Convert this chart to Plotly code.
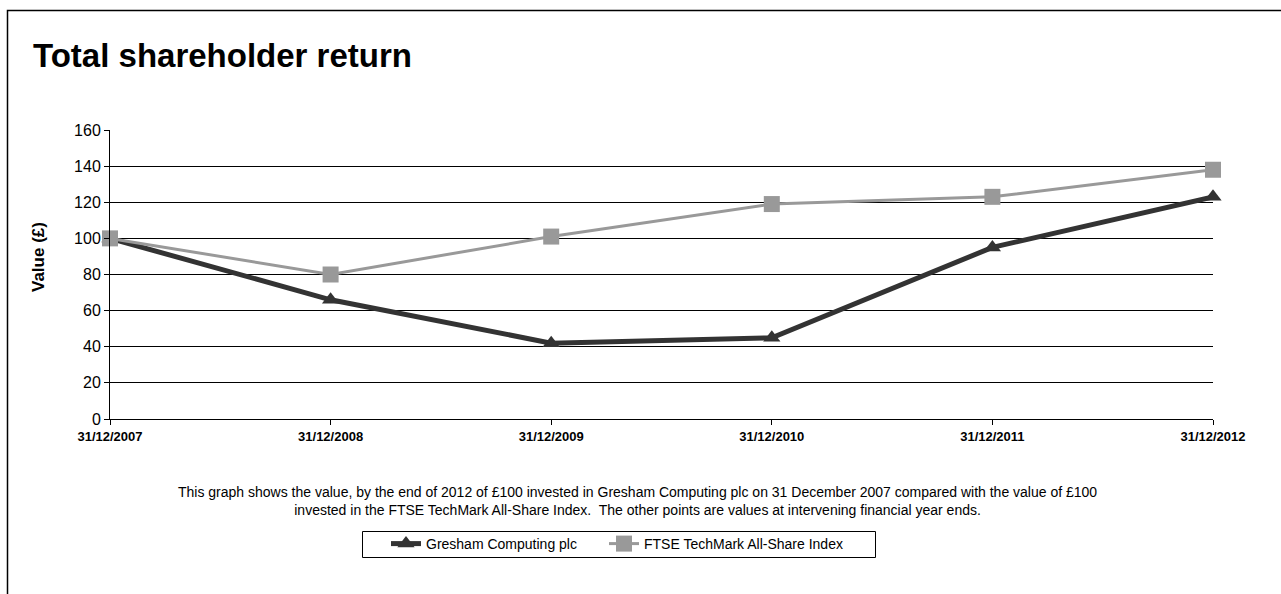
import plotly.graph_objects as go

dates = ["31/12/2007", "31/12/2008", "31/12/2009", "31/12/2010", "31/12/2011", "31/12/2012"]
gresham = [100, 66, 42, 45, 95, 123]
ftse = [100, 80, 101, 119, 123, 138]
y_ticks = [0, 20, 40, 60, 80, 100, 120, 140, 160]

W, H = 1281, 594
L, R, T, B = 110, 1213, 130, 419
pw, ph = R - L, B - T

def px(x):
    return (x - L) / pw

def py(y):
    return (B - y) / ph

FONT = "Arial, Liberation Sans, sans-serif"

fig = go.Figure()
fig.add_trace(go.Scatter(
    x=dates, y=gresham, name="Gresham Computing plc", mode="lines+markers",
    line=dict(color="#333333", width=5),
    marker=dict(symbol="triangle-up", size=15, color="#333333"),
    cliponaxis=False, legend="legend",
))
fig.add_trace(go.Scatter(
    x=dates, y=ftse, name="FTSE TechMark All-Share Index", mode="lines+markers",
    line=dict(color="#999999", width=3),
    marker=dict(symbol="square", size=16, color="#999999"),
    cliponaxis=False, legend="legend2",
))

leg_common = dict(
    orientation="h", yanchor="middle", xanchor="left",
    bgcolor="rgba(0,0,0,0)", borderwidth=0, font=dict(size=14, family=FONT),
    itemwidth=30,
)

fig.update_layout(
    width=W, height=H,
    margin=dict(l=L, r=W - R, t=T, b=H - B, pad=0),
    paper_bgcolor="white", plot_bgcolor="white",
    font=dict(family=FONT, color="black"),
    showlegend=True,
    legend=dict(x=px(386), y=py(544), **leg_common),
    legend2=dict(x=px(604), y=py(544), **leg_common),
    xaxis=dict(
        type="category", range=[0, 5], showgrid=False, showline=True,
        linecolor="black", linewidth=1, ticks="outside", ticklen=5, tickcolor="black",
        tickfont=dict(size=13, family=FONT), tickprefix="<b>", ticksuffix="</b>",
        zeroline=False, fixedrange=True,
    ),
    yaxis=dict(
        range=[0, 160], tickvals=y_ticks, showgrid=True, gridcolor="black", gridwidth=1,
        showline=True, linecolor="black", linewidth=1, ticks="outside", ticklen=5,
        tickcolor="black", tickfont=dict(size=16, family=FONT), zeroline=False,
    ),
    annotations=[
        dict(text="<b>Total shareholder return</b>", xref="paper", yref="paper",
             x=px(31), y=py(55), xanchor="left", yanchor="middle", showarrow=False,
             font=dict(size=33, family=FONT, color="black")),
        dict(text="<b>Value (£)</b>", xref="paper", yref="paper",
             x=px(38), y=py(257), xanchor="center", yanchor="middle", showarrow=False,
             textangle=-90, font=dict(size=17, family=FONT, color="black")),
        dict(text="This graph shows the value, by the end of 2012 of £100 invested in Gresham Computing plc on 31 December 2007 compared with the value of £100<br>invested in the FTSE TechMark All-Share Index.  The other points are values at intervening financial year ends.",
             xref="paper", yref="paper", x=px(637), y=py(501), xanchor="center",
             yanchor="middle", showarrow=False, align="center",
             font=dict(size=14, family=FONT, color="black")),
    ],
    shapes=[
        dict(type="path", xref="paper", yref="paper",
             path=f"M {px(7.5)},{py(600)} L {px(7.5)},{py(10.5)} L {px(1290)},{py(10.5)}",
             line=dict(color="black", width=1.5)),
        dict(type="rect", xref="paper", yref="paper",
             x0=px(362.5), x1=px(875.5), y0=py(557.5), y1=py(531.5),
             line=dict(color="black", width=1)),
    ],
)

fig.write_html("out.html")
